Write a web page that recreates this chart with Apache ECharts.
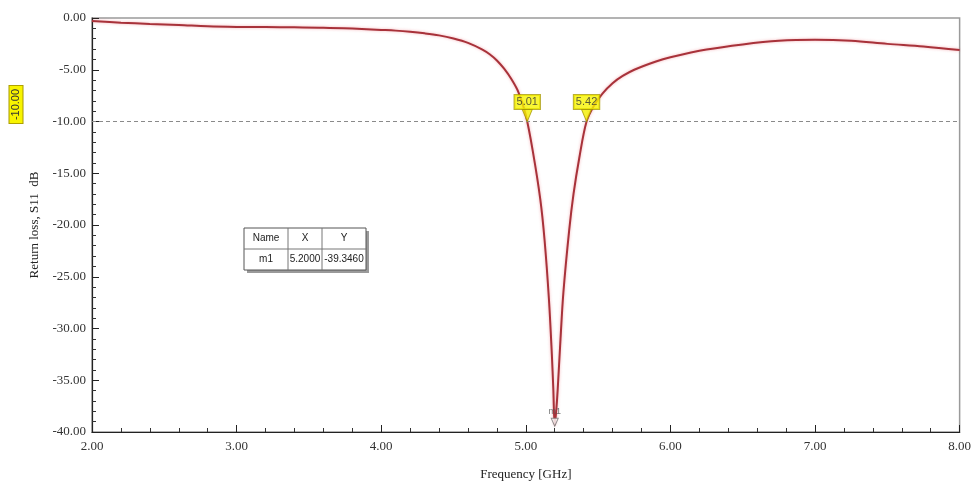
<!DOCTYPE html>
<html>
<head>
<meta charset="utf-8">
<title>Return loss S11</title>
<script src="https://cdn.jsdelivr.net/npm/echarts@6/dist/echarts.min.js"></script>
<style>
  html, body { margin: 0; padding: 0; background: #fff; }
  #chart { width: 974px; height: 486px; }
</style>
</head>
<body>
<div id="chart"></div>
<script>
// frequency points (GHz) and S11 (dB)
var freq = [2.00, 2.20, 2.40, 2.60, 2.80, 3.00, 3.20, 3.40, 3.60, 3.80,
            4.00, 4.10, 4.20, 4.30, 4.40, 4.50, 4.60, 4.70, 4.75, 4.80,
            4.85, 4.90, 4.95, 5.00, 5.05, 5.10, 5.13, 5.16, 5.18, 5.19,
            5.20, 5.21, 5.22, 5.24, 5.26, 5.30, 5.33, 5.37, 5.42, 5.47,
            5.53, 5.60, 5.67, 5.75, 5.90, 6.00, 6.25, 6.50, 6.75, 7.00,
            7.25, 7.50, 7.75, 8.00];
var s11 = [-0.30, -0.45, -0.57, -0.67, -0.80, -0.86, -0.88, -0.90, -0.93, -1.02,
           -1.15, -1.22, -1.33, -1.48, -1.68, -1.98, -2.40, -3.05, -3.50, -4.10,
           -4.90, -5.90, -7.20, -9.40, -13.0, -17.5, -21.5, -27.2, -32.5, -35.8,
           -39.35, -38.0, -36.0, -31.0, -26.5, -20.5, -17.0, -13.5, -10.0, -8.5,
           -7.3, -6.3, -5.6, -5.0, -4.2, -3.8, -3.05, -2.55, -2.2, -2.1,
           -2.2, -2.5, -2.75, -3.1];

// -10 dB markers and the minimum marker m1
var bandEdges = [5.01, 5.42];
var refLevel = -10;
var m1Name = 'm1';
var m1Freq = 5.2000;
var m1Val = -39.3460;

var serif = 'Liberation Serif';
var sans = 'Liberation Sans';
var narrow = '"Liberation Sans Narrow", "Liberation Sans", sans-serif';

var chart = echarts.init(document.getElementById('chart'));

var option = {
    animation: false,
    grid: {
        left: 92, right: 14, top: 18, bottom: 53,
        show: true, borderColor: '#9a9a9a', borderWidth: 1.5
    },
    xAxis: {
        type: 'value', min: 2, max: 8, interval: 1,
        name: 'Frequency [GHz]', nameLocation: 'middle', nameGap: 36,
        nameTextStyle: { fontFamily: serif, fontSize: 13, color: '#222' },
        axisLine: { onZero: false, lineStyle: { color: '#222', width: 1.2 } },
        axisTick: { inside: true, length: 7, lineStyle: { color: '#222' } },
        minorTick: { show: true, splitNumber: 5, length: 4, lineStyle: { color: '#333' } },
        splitLine: { show: false },
        axisLabel: {
            fontFamily: serif, fontSize: 13, color: '#333', margin: 8,
            formatter: function (v) { return v.toFixed(2); }
        }
    },
    yAxis: {
        type: 'value', min: -40, max: 0, interval: 5,
        name: 'Return loss, S11  dB', nameLocation: 'middle', nameGap: 48, nameRotate: 90,
        nameTextStyle: { fontFamily: serif, fontSize: 13, color: '#222' },
        axisLine: { onZero: false, lineStyle: { color: '#222', width: 1.2 } },
        axisTick: { inside: true, length: 7, lineStyle: { color: '#222' } },
        minorTick: { show: true, splitNumber: 5, length: 4, lineStyle: { color: '#333' } },
        splitLine: { show: false },
        axisLabel: {
            fontFamily: serif, fontSize: 13, color: '#333', margin: 6,
            formatter: function (v) { return v.toFixed(2); }
        }
    },
    series: [
        {
            name: 'S11',
            type: 'line',
            data: freq.map(function (f, i) { return [f, s11[i]]; }),
            showSymbol: false,
            smooth: 0.35,
            lineStyle: { color: '#a8323a', width: 2, shadowColor: 'rgba(230,80,90,0.45)', shadowBlur: 3 },
            markLine: {
                silent: true,
                symbol: 'none',
                label: { show: false },
                lineStyle: { color: '#8a8a8a', type: [4, 3], width: 1 },
                data: [{ yAxis: refLevel }]
            },
            z: 3
        },
        {
            name: 'edges',
            type: 'scatter',
            data: bandEdges.map(function (f) { return [f, refLevel]; }),
            symbol: 'triangle',
            symbolRotate: 180,
            symbolSize: [10, 12],
            symbolOffset: [0, -6],
            itemStyle: { color: '#f4f000', borderColor: '#a89a00', borderWidth: 1 },
            label: {
                show: true, position: 'top', distance: 0,
                formatter: function (p) { return p.value[0].toFixed(2); },
                backgroundColor: '#f8f400', borderColor: '#a89a00', borderWidth: 1,
                padding: [2, 2, 1, 2],
                fontFamily: sans, fontSize: 11, color: '#333'
            },
            z: 5
        },
        {
            name: m1Name,
            type: 'scatter',
            data: [[m1Freq, m1Val]],
            symbol: 'triangle',
            symbolRotate: 180,
            symbolSize: [7, 8],
            symbolOffset: [0, -3],
            itemStyle: { color: '#fff', borderColor: '#777', borderWidth: 1 },
            label: {
                show: true, position: 'top', distance: 2,
                formatter: m1Name,
                fontFamily: sans, fontSize: 9, color: '#555'
            },
            z: 5
        }
    ]
};
chart.setOption(option);

// rotated "-10.00" tag in the left margin, at the reference level
var yRef = chart.convertToPixel({ yAxisIndex: 0 }, refLevel);

// marker table
var tx = 244, ty = 228, c1 = 44, c2 = 34, c3 = 44, rh = 21;
var tw = c1 + c2 + c3;
var cell = function (text, x, y, w) {
    return {
        type: 'text', x: x + w / 2, y: y + rh / 2,
        style: { text: text, fontFamily: narrow, fontSize: 10, fill: '#222', align: 'center', verticalAlign: 'middle' }
    };
};

chart.setOption({
    graphic: [
        {
            type: 'text',
            x: 16, y: yRef - 17,
            rotation: Math.PI / 2,
            style: {
                text: refLevel.toFixed(2),
                fontFamily: sans, fontSize: 11, fill: '#333',
                backgroundColor: '#f8f400', borderColor: '#a89a00', borderWidth: 1,
                padding: [1, 3, 1, 3], align: 'center', verticalAlign: 'middle'
            }
        },
        {
            type: 'group',
            children: [
                { type: 'rect', shape: { x: tx + 3, y: ty + 3, width: tw, height: rh * 2 }, style: { fill: '#9a9a9a' } },
                { type: 'rect', shape: { x: tx, y: ty, width: tw, height: rh * 2 }, style: { fill: '#fff', stroke: '#555', lineWidth: 1 } },
                { type: 'line', shape: { x1: tx, y1: ty + rh, x2: tx + tw, y2: ty + rh }, style: { stroke: '#777' } },
                { type: 'line', shape: { x1: tx + c1, y1: ty, x2: tx + c1, y2: ty + rh * 2 }, style: { stroke: '#777' } },
                { type: 'line', shape: { x1: tx + c1 + c2, y1: ty, x2: tx + c1 + c2, y2: ty + rh * 2 }, style: { stroke: '#777' } },
                cell('Name', tx, ty, c1),
                cell('X', tx + c1, ty, c2),
                cell('Y', tx + c1 + c2, ty, c3),
                cell(m1Name, tx, ty + rh, c1),
                cell(m1Freq.toFixed(4), tx + c1, ty + rh, c2),
                cell(m1Val.toFixed(4), tx + c1 + c2, ty + rh, c3)
            ]
        }
    ]
});
</script>
</body>
</html>
